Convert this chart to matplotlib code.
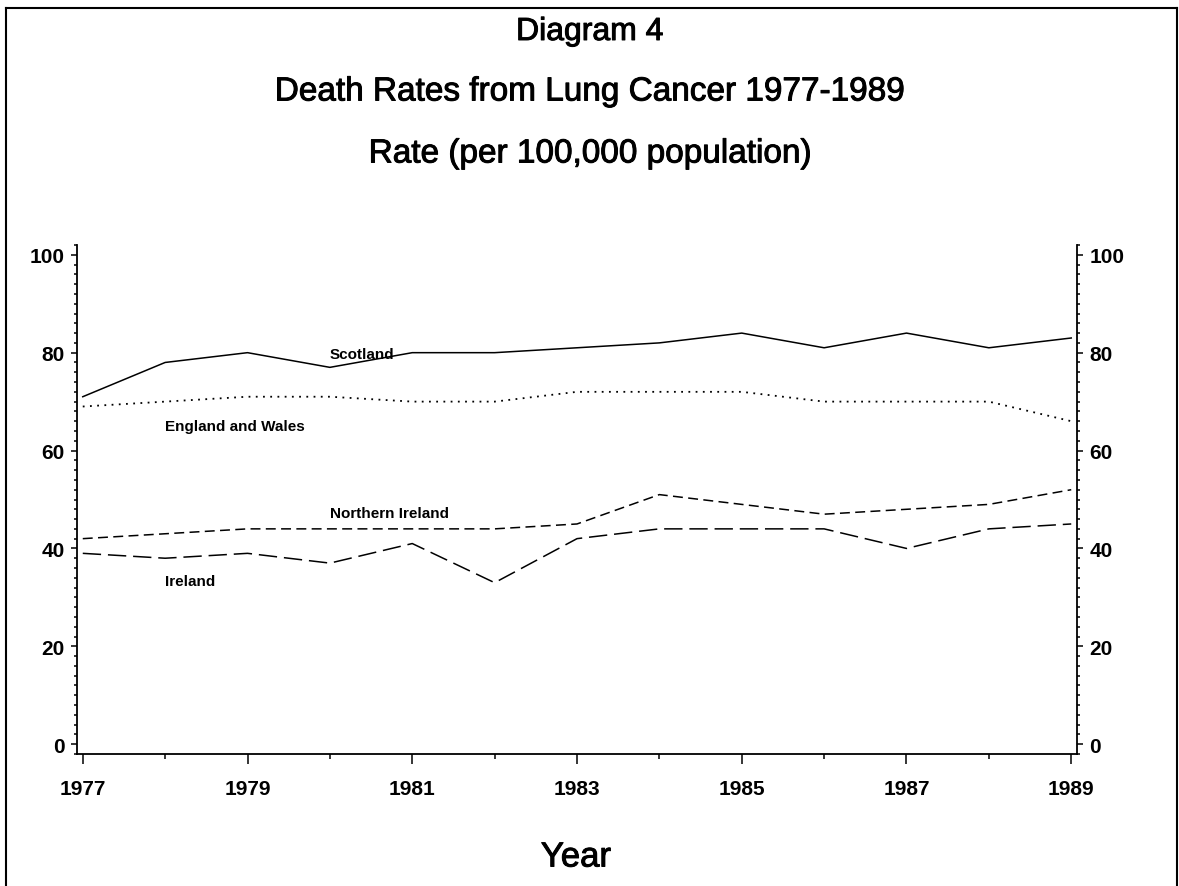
import matplotlib
matplotlib.use("Agg")
import matplotlib.pyplot as plt
import matplotlib.patheffects as pe
from matplotlib.lines import Line2D
from matplotlib.ticker import MultipleLocator

# Death rates per 100,000 population
years = [1977, 1978, 1979, 1980, 1981, 1982, 1983, 1984, 1985, 1986, 1987, 1988, 1989]
scotland = [71, 78, 80, 77, 80, 80, 81, 82, 84, 81, 84, 81, 83]
england_wales = [69, 70, 71, 71, 70, 70, 72, 72, 72, 70, 70, 70, 66]
northern_ireland = [42, 43, 44, 44, 44, 44, 45, 51, 49, 47, 48, 49, 52]
ireland = [39, 38, 39, 37, 41, 33, 42, 44, 44, 44, 40, 44, 45]

plt.rcParams['font.family'] = ['Liberation Sans', 'DejaVu Sans']

W, H = 1179, 887
fig = plt.figure(figsize=(W / 100, H / 100), dpi=100)

# axes box in pixels: left 77, right 1077, top 246, bottom 755
ax = fig.add_axes([77 / W, 1 - 755 / H, (1077 - 77) / W, (755 - 246) / H])

ax.plot(years, scotland, color='black', lw=1.1, linestyle='-')
ax.plot(years, england_wales, color='black', lw=1.3, linestyle=(0, (1.0, 3.0)))
ax.plot(years, northern_ireland, color='black', lw=1.1, linestyle=(0, (6.5, 3.5)))
ax.plot(years, ireland, color='black', lw=1.1, linestyle=(0, (12, 4.5)))

# series labels sit on the chart itself
label_kw = dict(fontsize=11, fontweight='bold', va='center', ha='left')
ax.text(1980, 79.8, 'Scotland', **label_kw)
ax.text(1978, 65.0, 'England and Wales', **label_kw)
ax.text(1980, 47.2, 'Northern Ireland', **label_kw)
ax.text(1978, 33.3, 'Ireland', **label_kw)

ax.set_xlim(1976.93, 1989.07)
ax.set_ylim(-2, 102)

ax.xaxis.set_minor_locator(MultipleLocator(1))
ax.set_xticks(years[::2])
ax.yaxis.set_major_locator(MultipleLocator(20))
ax.yaxis.set_minor_locator(MultipleLocator(2))

ax.spines['top'].set_visible(False)
for s in ['left', 'right', 'bottom']:
    ax.spines[s].set_linewidth(1.3)

ax.tick_params(axis='y', which='both', direction='out', left=True, right=True,
               labelleft=True, labelright=True, width=1.1)
ax.tick_params(axis='y', which='major', length=4, pad=5, labelsize=15)
ax.tick_params(axis='y', which='minor', length=2.2)
ax.tick_params(axis='x', which='both', direction='out', width=1.1)
ax.tick_params(axis='x', which='major', length=7, pad=11, labelsize=15)
ax.tick_params(axis='x', which='minor', length=3.5)
for lab in ax.get_xticklabels() + ax.get_yticklabels():
    lab.set_fontweight('bold')

# titles, slightly heavier than the regular face like the original print
heavy = [pe.withStroke(linewidth=0.7, foreground='black')]
fig.text(590 / W, 1 - 33 / H, 'Diagram 4', ha='center', va='center', fontsize=23,
         path_effects=heavy)
fig.text(590 / W, 1 - 93 / H, 'Death Rates from Lung Cancer 1977-1989',
         ha='center', va='center', fontsize=24, path_effects=heavy)
fig.text(590 / W, 1 - 155 / H, 'Rate (per 100,000 population)',
         ha='center', va='center', fontsize=24, path_effects=heavy)
fig.text(576 / W, 1 - 858 / H, 'Year', ha='center', va='center', fontsize=25,
         path_effects=heavy)

# page frame
frame = dict(color='black', lw=1.5, transform=fig.transFigure)
fig.add_artist(Line2D([6 / W, 6 / W], [0, 1 - 9 / H], **frame))
fig.add_artist(Line2D([6 / W, 1177 / W], [1 - 9 / H, 1 - 9 / H], **frame))
fig.add_artist(Line2D([1177 / W, 1177 / W], [0, 1 - 9 / H], **frame))

fig.savefig('out.png', dpi=100)
